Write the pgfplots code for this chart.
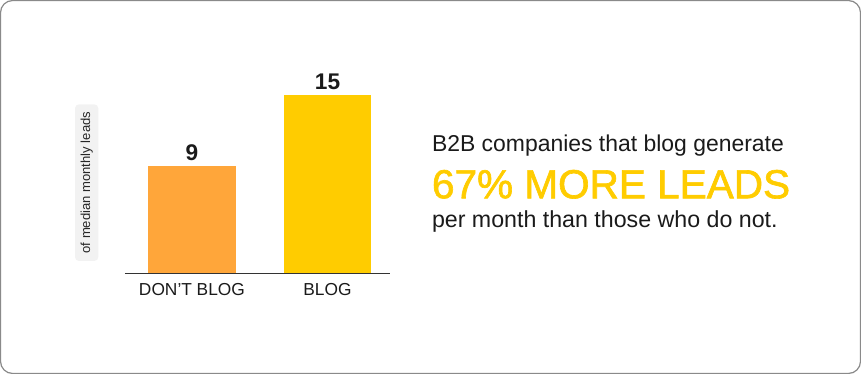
\documentclass[border=0pt]{standalone}
\usepackage{pgfplots}
\pgfplotsset{compat=1.18}
\usepackage{fontspec}
\setmainfont{Liberation Sans}
\newfontfamily\bigfont[FakeBold=1.6]{Liberation Sans}
\definecolor{barorange}{HTML}{FFA63A}
\definecolor{baryellow}{HTML}{FFCC00}
\definecolor{txt}{HTML}{1A1A1A}
\definecolor{boxgray}{HTML}{F2F2F2}
\definecolor{bordergray}{HTML}{8A8A8A}
\begin{document}
\begin{tikzpicture}
\useasboundingbox (0,0) rectangle (645.75pt,-280.5pt);
\draw[bordergray, line width=0.9pt, rounded corners=9pt] (0.4pt,-0.4pt) rectangle (645.35pt,-280.1pt);
\begin{axis}[
  at={(93.75pt,-204.98pt)}, anchor=south west,
  scale only axis, width=198.75pt, height=142.8pt,
  xmin=-0.494, xmax=1.461, ymin=0, ymax=16,
  axis x line*=bottom, axis y line=none,
  x axis line style={draw=black!80, line width=0.8pt, -},
  xtick={0,1}, xticklabels={DON'T BLOG, BLOG},
  major tick length=0pt,
  xticklabel style={font=\fontsize{13}{15}\selectfont, text=txt, anchor=base, inner sep=0pt, yshift=-16.8pt},
  ybar, bar width=0.649,
  /pgf/number format/assume math mode=true,
  nodes near coords,
  every node near coord/.append style={font=\bfseries\fontsize{17}{19}\selectfont, text=txt, inner sep=0pt, anchor=south, yshift=3.9pt},
]
\addplot[fill=barorange, draw=none, bar shift=0pt] coordinates {(0,9)};
\addplot[fill=baryellow, draw=none, bar shift=0pt] coordinates {(1,15)};
\end{axis}
\node[fill=boxgray, rounded corners=3pt, rotate=90, minimum width=117.5pt, minimum height=17.5pt, inner sep=0pt, text=black!85, font=\fontsize{9.8}{11}\selectfont] at (65pt,-137pt) {of median monthly leads};
\node[anchor=base west, inner sep=0pt, text=txt, font=\fontsize{17.2}{20}\selectfont] at (323.8pt,-113.8pt) {B2B companies that blog generate};
\node[anchor=base west, inner sep=0pt, text=baryellow, font=\bigfont\fontsize{30.4}{34}\selectfont] at (323.8pt,-148.7pt) {67\% MORE LEADS};
\node[anchor=base west, inner sep=0pt, text=txt, font=\fontsize{17.4}{20}\selectfont] at (323.8pt,-170.5pt) {per month than those who do not.};
\end{tikzpicture}
\end{document}
